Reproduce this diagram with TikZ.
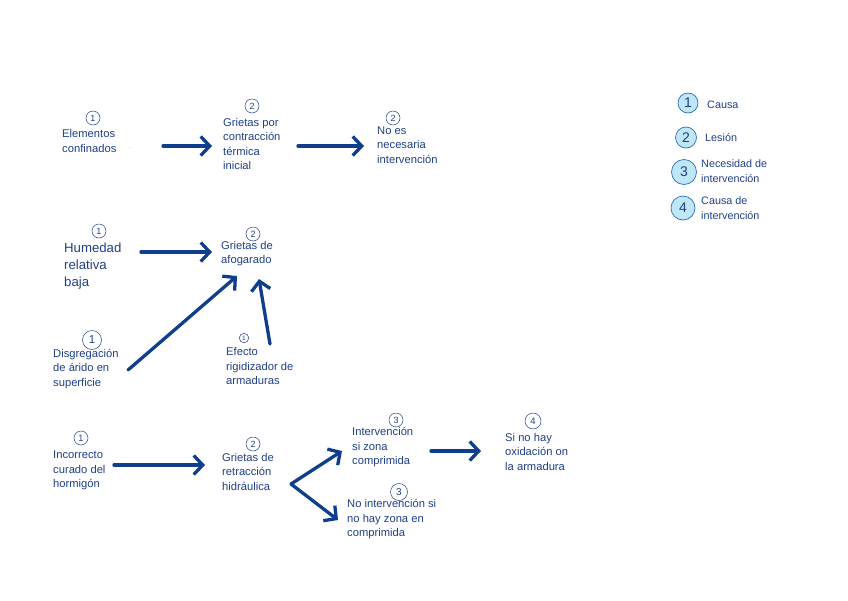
\documentclass[tikz,border=0pt]{standalone}
\usepackage{fontspec}
\setmainfont{Liberation Sans}
\usetikzlibrary{arrows.meta}
\definecolor{txtblue}{HTML}{1F3F86}
\definecolor{arrblue}{HTML}{0E3E8C}
\definecolor{legfill}{HTML}{BFE7F7}
\definecolor{legline}{HTML}{2A6FB5}
\tikzset{
  lbl/.style={anchor=west, align=left, text=txtblue, font=\fontsize{11.2}{14.5}\selectfont, inner sep=0pt},
  biglbl/.style={anchor=west, align=left, text=txtblue, font=\fontsize{13.2}{17}\selectfont, inner sep=0pt},
  leglbl/.style={anchor=west, align=left, text=txtblue, font=\fontsize{10.8}{15}\selectfont, inner sep=0pt},
  num/.style={circle, draw=txtblue, line width=0.5pt, text=txtblue, font=\fontsize{9}{10}\selectfont, inner sep=0.6pt, minimum size=14pt},
  leg/.style={circle, draw=legline, fill=legfill, line width=0.7pt, text=txtblue, font=\fontsize{14}{15}\selectfont, inner sep=0pt},
  conn/.style={draw=arrblue, line width=3.3pt, line cap=round, -{Straight Barb[length=9pt,width=19pt]}}
}
\begin{document}
\begin{tikzpicture}[x=1pt,y=-1pt]
\useasboundingbox (0,0) rectangle (848,600);
% Row 1
\node[num] (n11) at (93,118) {1};
\node[lbl] (t11) at (62,141) {Elementos\\confinados};
\node[text=txtblue, font=\tiny] (dot1) at (130,148) {.};
\node[num] (n12) at (252,106) {2};
\node[lbl] (t12) at (223,144) {Grietas por\\contracción\\térmica\\inicial};
\node[num] (n13) at (393,118) {2};
\node[lbl] (t13) at (377,145) {No es\\necesaria\\intervención};
\coordinate (a1s) at (163,146); \coordinate (a1e) at (212,146);
\coordinate (a2s) at (298,146); \coordinate (a2e) at (364,146);
\draw[conn] (a1s) -- (a1e);
\draw[conn] (a2s) -- (a2e);
% Row 2
\node[num] (n21) at (99,231) {1};
\node[biglbl] (t21) at (64,266) {Humedad\\relativa\\baja};
\node[num] (n22) at (253,234) {2};
\node[lbl] (t22) at (221,253.5) {Grietas de\\afogarado};
\node[num, minimum size=19pt, font=\fontsize{11.5}{12}\selectfont] (n23) at (92,340) {1};
\node[lbl] (t23) at (53,369) {Disgregación\\de árido en\\superficie};
\node[num, minimum size=9.5pt, font=\fontsize{6.5}{7}\selectfont, inner sep=0pt] (n24) at (244,338) {1};
\node[lbl] (t24) at (226,366) {Efecto\\rigidizador de\\armaduras};
\coordinate (b1s) at (141,252); \coordinate (b1e) at (212,252);
\coordinate (b2s) at (128,370); \coordinate (b2e) at (237,276);
\coordinate (b3s) at (270,344); \coordinate (b3e) at (259,279);
\draw[conn] (b1s) -- (b1e);
\draw[conn] (b2s) -- (b2e);
\draw[conn] (b3s) -- (b3e);
% Row 3
\node[num] (n31) at (81,438) {1};
\node[lbl] (t31) at (53,470.5) {Incorrecto\\curado del\\hormigón};
\node[num] (n32) at (253,444) {2};
\node[lbl] (t32) at (222,471.5) {Grietas de\\retracción\\hidráulica};
\node[num] (n33) at (396,420) {3};
\node[lbl] (t33) at (352,447.5) {Intervención\\si zona\\comprimida};
\node[num, minimum size=16pt, font=\fontsize{9.5}{10}\selectfont] (n34) at (533,421) {4};
\node[lbl] (t34) at (505,451.5) {Si no hay\\oxidación on\\la armadura};
\node[num, minimum size=17pt, font=\fontsize{10}{11}\selectfont] (n35) at (399,492) {3};
\node[lbl] (t35) at (347,519.5) {No intervención si\\no hay zona en\\comprimida};
\coordinate (c1s) at (114,465); \coordinate (c1e) at (205,465);
\coordinate (fork) at (291,484);
\coordinate (c2e) at (342,451); \coordinate (c3e) at (338,520);
\coordinate (c4s) at (431,451); \coordinate (c4e) at (481,451);
\draw[conn] (c1s) -- (c1e);
\draw[conn] (fork) -- (c2e);
\draw[conn] (fork) -- (c3e);
\draw[conn] (c4s) -- (c4e);
% Legend
\node[leg, minimum size=20pt] (l1) at (688,103) {1};
\node[leglbl] (lt1) at (707,104.5) {Causa};
\node[leg, minimum size=21pt] (l2) at (686,137.5) {2};
\node[leglbl] (lt2) at (705,138) {Lesión};
\node[leg, minimum size=25pt] (l3) at (684,172) {3};
\node[leglbl] (lt3) at (701,171) {Necesidad de\\intervención};
\node[leg, minimum size=24pt] (l4) at (683,208) {4};
\node[leglbl] (lt4) at (701,208.5) {Causa de\\intervención};
\end{tikzpicture}
\end{document}
